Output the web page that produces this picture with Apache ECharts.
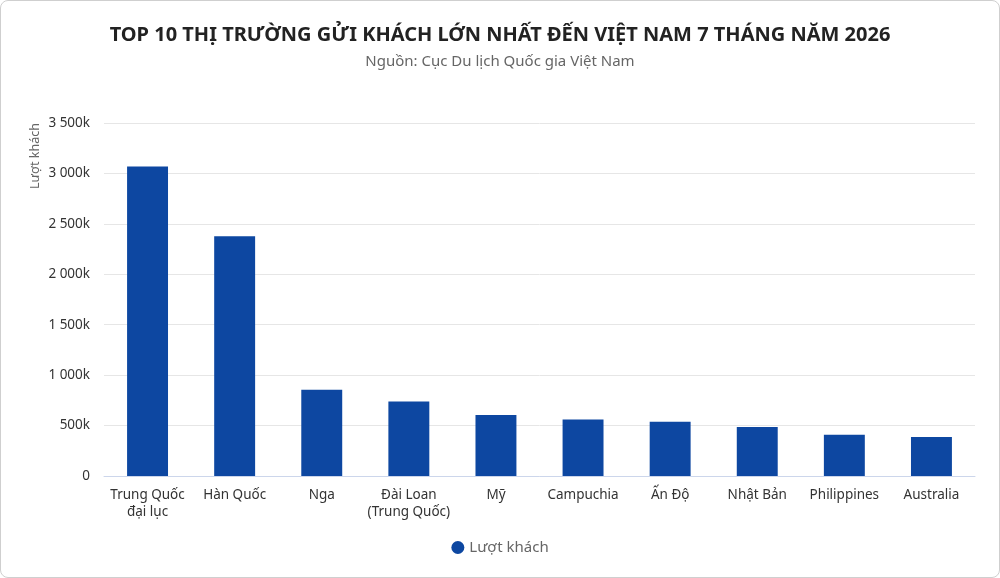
<!DOCTYPE html>
<html lang="vi">
<head>
    <meta charset="UTF-8">
    <title>Top 10 thị trường gửi khách</title>
    <script src="https://cdn.jsdelivr.net/npm/echarts@6.0.0/dist/echarts.min.js"></script>
    <style>
        html, body { margin: 0; padding: 0; background: #fff; }
        #chart {
            width: 1000px; height: 578px;
            box-sizing: border-box;
            border: 1px solid #cfcfcf;
            border-radius: 8px;
        }
    </style>
</head>
<body>
    <div id="chart"></div>
    <script>
        // danh sách thị trường
        const markets = ['Trung Quốc\nđại lục', 'Hàn Quốc', 'Nga', 'Đài Loan\n(Trung Quốc)', 'Mỹ',
            'Campuchia', 'Ấn Độ', 'Nhật Bản', 'Philippines', 'Australia'];
        // lượt khách (nghìn)
        const visitors = [3068, 2378, 856, 738, 606, 561, 537, 485, 410, 387];

        const FONT = 'Noto Sans';
        const chart = echarts.init(document.getElementById('chart'));

        const option = {
            textStyle: { fontFamily: FONT },
            title: {
                text: 'TOP 10 THỊ TRƯỜNG GỬI KHÁCH LỚN NHẤT ĐẾN VIỆT NAM 7 THÁNG NĂM 2026',
                subtext: 'Nguồn: Cục Du lịch Quốc gia Việt Nam',
                left: 'center',
                top: 19,
                itemGap: 9,
                textStyle: { fontFamily: FONT, fontSize: 20, fontWeight: 'bold', color: '#222' },
                subtextStyle: { fontFamily: FONT, fontSize: 15, color: '#666' }
            },
            legend: {
                bottom: 17,
                left: 'center',
                icon: 'circle',
                itemWidth: 13,
                itemHeight: 13,
                itemGap: 6,
                textStyle: { fontFamily: FONT, fontSize: 15, color: '#666' }
            },
            grid: { left: 103, right: 24, top: 122, bottom: 101 },
            xAxis: {
                type: 'category',
                data: markets,
                axisTick: { show: false },
                axisLine: { lineStyle: { color: '#ccd6eb' } },
                axisLabel: { fontFamily: FONT, fontSize: 13.5, color: '#333', margin: 11, interval: 0, lineHeight: 17 }
            },
            yAxis: {
                type: 'value',
                name: 'Lượt khách',
                nameLocation: 'end',
                nameRotate: 90,
                nameGap: 0,
                nameTextStyle: { fontFamily: FONT, fontSize: 12.5, color: '#666', align: 'right', verticalAlign: 'bottom', padding: [0, 0, 62, 0] },
                min: 0,
                max: 3500,
                interval: 500,
                axisLabel: {
                    fontFamily: FONT, fontSize: 13.5, color: '#333', margin: 14,
                    formatter: function (v) {
                        if (v === 0) return '0';
                        return String(v * 1000).replace(/\B(?=(\d{3})+(?!\d))/g, ' ').replace(/ 000$/, 'k');
                    }
                },
                splitLine: { lineStyle: { color: '#e6e6e6' } }
            },
            series: [{
                name: 'Lượt khách',
                type: 'bar',
                data: visitors,
                barWidth: '47%',
                itemStyle: { color: '#0d47a1' }
            }]
        };

        chart.setOption(option);
    </script>
</body>
</html>
